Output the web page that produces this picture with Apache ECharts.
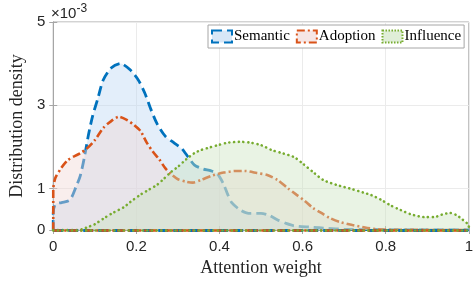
<!DOCTYPE html>
<html><head><meta charset="utf-8">
<script src="https://cdn.jsdelivr.net/npm/echarts@6/dist/echarts.min.js"></script>
<style>html,body{margin:0;padding:0;background:#fff}#c{width:476px;height:283px}</style>
</head><body><div id="c"></div>
<script>
// values in units of 1e-3
const semanticX = [0, 0, 0.005, 0.02, 0.04, 0.055, 0.065, 0.075, 0.085, 0.095, 0.107, 0.12, 0.14, 0.162, 0.185, 0.205, 0.22, 0.235, 0.25, 0.27, 0.29, 0.31, 0.325, 0.34, 0.36, 0.38, 0.395, 0.41, 0.42, 0.43, 0.45, 0.47, 0.5, 0.52, 0.54, 0.56, 0.58, 0.62, 0.66, 0.7, 0.75, 0.8, 0.9, 1];
const semanticY = [0, 0.40, 0.62, 0.66, 0.72, 1.04, 1.3, 1.75, 2.3, 2.75, 3.15, 3.6, 3.9, 4.0, 3.85, 3.6, 3.3, 2.9, 2.55, 2.25, 2.1, 1.95, 1.75, 1.56, 1.47, 1.42, 1.35, 1.1, 0.85, 0.65, 0.48, 0.40, 0.40, 0.35, 0.24, 0.16, 0.10, 0.07, 0.04, 0.02, 0.01, 0.005, 0.003, 0.002];
const adoptionX = [0, 0, 0.005, 0.02, 0.035, 0.05, 0.066, 0.08, 0.1, 0.12, 0.137, 0.158, 0.178, 0.195, 0.21, 0.225, 0.24, 0.255, 0.27, 0.285, 0.3, 0.32, 0.336, 0.355, 0.38, 0.41, 0.44, 0.46, 0.49, 0.515, 0.54, 0.565, 0.585, 0.605, 0.625, 0.645, 0.665, 0.69, 0.72, 0.75, 0.78, 0.82, 0.9, 1];
const adoptionY = [0, 0.96, 1.25, 1.5, 1.68, 1.77, 1.85, 1.95, 2.16, 2.45, 2.6, 2.72, 2.64, 2.52, 2.38, 2.1, 1.88, 1.7, 1.48, 1.33, 1.22, 1.16, 1.14, 1.2, 1.3, 1.38, 1.42, 1.42, 1.37, 1.32, 1.2, 1.0, 0.85, 0.7, 0.53, 0.41, 0.29, 0.19, 0.12, 0.06, 0.02, 0.005, 0.002, 0];
const influenceX = [0, 0.06, 0.07, 0.083, 0.1, 0.123, 0.145, 0.17, 0.185, 0.21, 0.23, 0.249, 0.265, 0.284, 0.3, 0.32, 0.34, 0.355, 0.375, 0.396, 0.42, 0.45, 0.474, 0.5, 0.526, 0.55, 0.58, 0.6, 0.628, 0.65, 0.683, 0.72, 0.746, 0.765, 0.79, 0.81, 0.836, 0.86, 0.893, 0.917, 0.935, 0.955, 0.97, 0.985, 1, 1];
const influenceY = [0, 0, 0.02, 0.07, 0.14, 0.29, 0.42, 0.55, 0.67, 0.85, 0.97, 1.08, 1.22, 1.4, 1.52, 1.7, 1.85, 1.92, 1.98, 2.04, 2.1, 2.12, 2.1, 2.04, 1.92, 1.85, 1.75, 1.6, 1.37, 1.2, 1.08, 0.98, 0.9, 0.84, 0.72, 0.6, 0.48, 0.38, 0.31, 0.31, 0.37, 0.41, 0.36, 0.25, 0.1, 0];
const seriesNames = ['Semantic', 'Adoption', 'Influence'];
const xTicks = [0, 0.2, 0.4, 0.6, 0.8, 1];
const yTicks = [0, 1, 3, 5];

const pairs = (xs, ys) => xs.map((x, i) => [x, ys[i]]);
const chart = echarts.init(document.getElementById('c'), null, {renderer: 'canvas'});
const serif = 'Liberation Serif';
const sans = 'Liberation Sans';
const lineColors = ['#0072BD', '#D95319', '#77AC30'];
const fillColors = ['rgba(188,215,242,0.6)', 'rgba(240,214,212,0.6)', 'rgba(203,227,190,0.6)'];
const dashes = [[10, 5], [8, 3, 2, 3], [0.1, 4.6]];
const widths = [2.8, 2.6, 2.6];
const caps = ['butt', 'butt', 'round'];
const datas = [pairs(semanticX, semanticY), pairs(adoptionX, adoptionY), pairs(influenceX, influenceY)];

chart.setOption({
  animation: false,
  grid: {left: 50, right: 4, top: 22, bottom: 53, show: true, borderColor: '#a6a6a6', borderWidth: 1, backgroundColor: 'transparent'},
  xAxis: [{
    type: 'value', min: 0, max: 1, interval: 0.2,
    name: 'Attention weight', nameLocation: 'middle', nameGap: 27,
    nameTextStyle: {fontFamily: serif, fontSize: 18, color: '#262626'},
    axisLine: {show: true, lineStyle: {color: '#a6a6a6'}},
    axisTick: {show: true, inside: true, length: 4, lineStyle: {color: '#a6a6a6'}},
    axisLabel: {fontFamily: sans, fontSize: 15, color: '#262626', margin: 9, formatter: v => xTicks.includes(+v.toFixed(1)) ? String(+v.toFixed(1)) : ''},
    splitLine: {show: true, lineStyle: {color: '#ebebeb'}}
  }, {
    type: 'value', min: 0, max: 1, interval: 0.2, position: 'top',
    axisLine: {show: true, lineStyle: {color: '#a6a6a6'}},
    axisTick: {show: true, inside: true, length: 4, lineStyle: {color: '#a6a6a6'}},
    axisLabel: {show: false}, splitLine: {show: false}
  }],
  yAxis: [{
    type: 'value', min: 0, max: 5,
    name: 'Distribution density', nameLocation: 'middle', nameGap: 20,
    nameTextStyle: {fontFamily: serif, fontSize: 18, color: '#262626'},
    axisLine: {show: true, lineStyle: {color: '#a6a6a6'}},
    axisTick: {show: true, inside: true, length: 4, customValues: yTicks, lineStyle: {color: '#a6a6a6'}},
    axisLabel: {fontFamily: sans, fontSize: 15, color: '#262626', margin: 8, customValues: yTicks},
    splitLine: {show: true, lineStyle: {color: '#ebebeb'}}
  }, {
    type: 'value', min: 0, max: 5, position: 'right',
    axisLine: {show: true, lineStyle: {color: '#a6a6a6'}},
    axisTick: {show: true, inside: true, length: 4, customValues: yTicks, lineStyle: {color: '#a6a6a6'}},
    axisLabel: {show: false}, splitLine: {show: false}
  }],
  legend: {
    left: 208, top: 25, orient: 'horizontal',
    itemWidth: 20, itemHeight: 12, itemGap: 6,
    padding: [4, 3, 4, 3],
    borderColor: '#a6a6a6', borderWidth: 1, backgroundColor: '#fff',
    textStyle: {fontFamily: serif, fontSize: 15, color: '#000', padding: [0, 0, 0, -3]},
    data: seriesNames.map((n, i) => ({
      name: n, icon: 'rect',
      itemStyle: {color: fillColors[i], borderColor: lineColors[i], borderWidth: 2, borderType: i === 2 ? [1.5, 1.5] : dashes[i]}
    }))
  },
  graphic: [{
    type: 'text', left: 51, top: 3,
    style: {
      text: '{a|×10}{b|-3}',
      rich: {
        a: {fontFamily: sans, fontSize: 15, fill: '#262626', verticalAlign: 'bottom', lineHeight: 18},
        b: {fontFamily: sans, fontSize: 12, fill: '#262626', verticalAlign: 'top', lineHeight: 18, padding: [0, 0, 8, 0]}
      }
    }
  }],
  series: seriesNames.map((n, i) => ({
    name: n, type: 'line', data: datas[i], z: 2 + i,
    smooth: 0.25, symbol: 'none', showSymbol: false,
    lineStyle: {color: lineColors[i], width: widths[i], type: dashes[i], cap: caps[i]},
    itemStyle: {color: lineColors[i]},
    areaStyle: {color: fillColors[i], origin: 'start'},
    markLine: {
      silent: true, symbol: 'none', label: {show: false},
      lineStyle: {color: lineColors[i], width: widths[i], type: dashes[i], cap: caps[i]},
      data: [{yAxis: 0}]
    }
  }))
});
</script>
</body></html>
